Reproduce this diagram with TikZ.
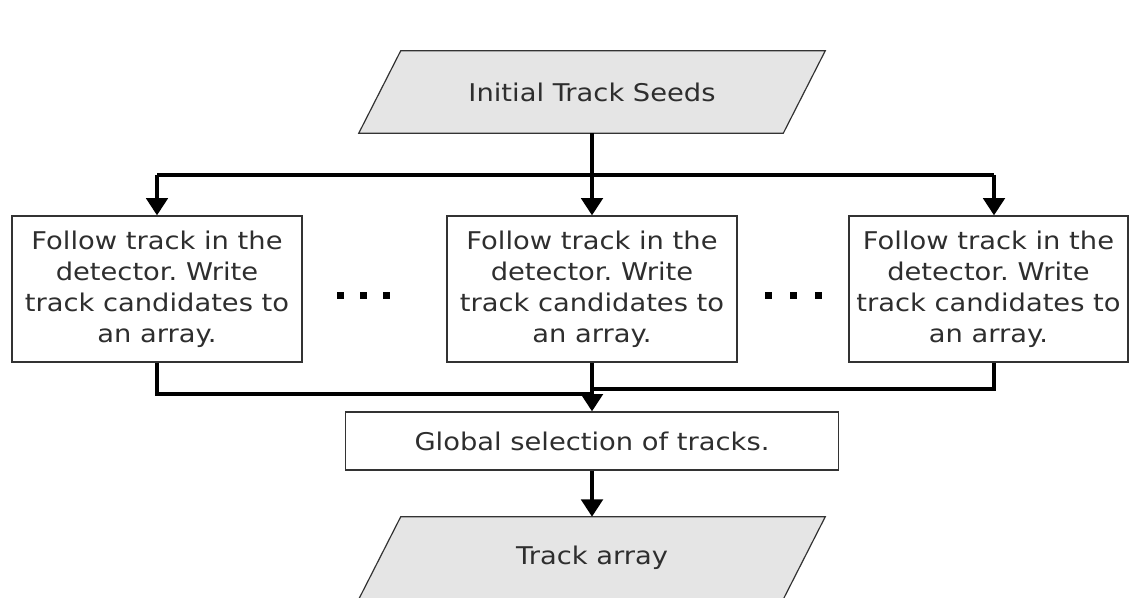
\documentclass[tikz,border=0pt]{standalone}
\usepackage{fontspec}
\setmainfont[FakeStretch=1.12]{DejaVu Sans}
\frenchspacing
\usetikzlibrary{arrows.meta,calc,backgrounds}
\begin{document}
\begin{tikzpicture}[x=0.75pt,y=-0.75pt,
  every node/.style={font=\fontsize{18.3}{23.25}\selectfont, text=black!82},
  task/.style={draw=black!80, line width=0.9pt, fill=white, align=center,
    minimum width=217.5pt, minimum height=109.5pt, inner sep=0pt},
  wide/.style={draw=black!80, line width=0.9pt, fill=white,
    minimum width=369.75pt, minimum height=43.5pt, inner sep=0pt},
  io/.style={minimum width=318pt, minimum height=61.5pt, inner sep=0pt},
  iofill/.style={draw=black!80, line width=0.9pt, fill=black!10},
  link/.style={line width=3pt},
  flow/.style={line width=3pt, -{Triangle[width=16pt,length=13pt]}},
  dot/.style={fill=black}]
\useasboundingbox (0,0) rectangle (1130,598);
\clip (0,0) rectangle (1130,598);

% data nodes (parallelograms drawn behind their text)
\node[io] (seeds) at (592,92) {Initial Track Seeds};
\node[io] (tracks) at (592,558) {Track array};
\begin{scope}[on background layer]
  \foreach \n in {seeds,tracks}
    \draw[iofill] ($(\n.north west)+(21,0)$) -- ($(\n.north east)+(21,0)$)
      -- ($(\n.south east)+(-21,0)$) -- ($(\n.south west)+(-21,0)$) -- cycle;
\end{scope}

% parallel tracking steps
\node[task] (left) at (157,289) {Follow track in the\\detector. Write\\track candidates to\\an array.};
\node[task] (mid) at (592,289) {Follow track in the\\detector. Write\\track candidates to\\an array.};
\node[task, minimum width=209.25pt] (right) at (988.5,289) {Follow track in the\\detector. Write\\track candidates to\\an array.};

% global selection
\node[wide] (global) at (592,441) {Global selection of tracks.};

% ellipsis marks between the steps
\foreach \cx in {340,363,386,768,793,818}
  \fill[dot] (\cx-3.5,292) rectangle (\cx+3.5,299);

% fan-out from the seeds
\coordinate (split) at (592,175);
\coordinate (rin) at ($(right.north)+(5.5,0)$);
\coordinate (rout) at ($(right.south)+(5.5,0)$);
\draw[link] (left.north |- split) -- (rin |- split);
\draw[flow] (seeds.south) -- (mid.north);
\draw[flow] (left.north |- split) -- (left.north);
\draw[flow] (rin |- split) -- (rin);

% fan-in to the global selection
\coordinate (joinL) at (592,394);
\coordinate (joinR) at (592,389);
\draw[link] (left.south) |- (joinL);
\draw[link] (rout) |- (joinR);
\draw[flow] (mid.south) -- (global.north);
\draw[flow] (global.south) -- (tracks.north);
\end{tikzpicture}
\end{document}
